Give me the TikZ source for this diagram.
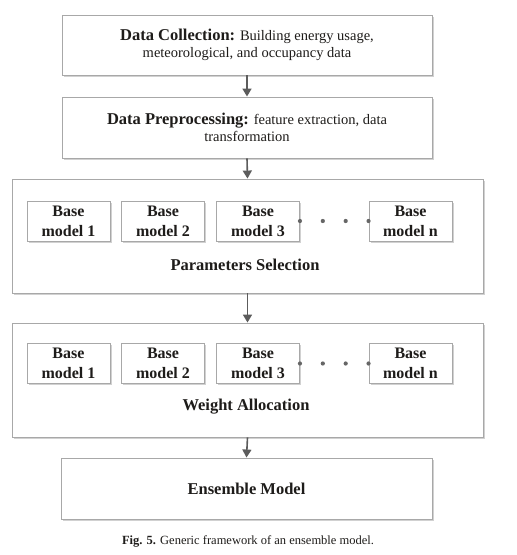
\documentclass[tikz,border=0pt]{standalone}
\usepackage{fontspec}
\setmainfont{Liberation Serif}
\usetikzlibrary{arrows.meta,shadows,calc}
\definecolor{framegray}{HTML}{A8A8A8}
\definecolor{arrowgray}{HTML}{5C5C5C}
\definecolor{inkblack}{HTML}{1E1C1A}
\definecolor{dotgray}{HTML}{666666}
\newcommand{\headfont}{\bfseries\fontsize{16.5}{17}\selectfont}
\newcommand{\bodyfont}{\fontsize{14.5}{17}\selectfont}

\tikzset{
  stage/.style={draw=framegray, fill=white, line width=0.9pt, inner sep=0pt, align=center, text=inkblack,
    drop shadow={shadow xshift=1.5pt, shadow yshift=-1.5pt, fill=black, opacity=0.18}},
  modelbox/.style={stage, minimum width=83pt, minimum height=40pt, font=\bfseries\fontsize{16}{20}\selectfont},
  steplabel/.style={text=inkblack, font=\headfont},
  flow/.style={draw=arrowgray, line width=1.6pt, -{Triangle[width=9pt,length=8pt]}},
}

\begin{document}
\begin{tikzpicture}[x=1pt, y=1pt]
  \useasboundingbox (0,0) rectangle (517,-555);

  % pipeline stages
  \node[stage, minimum width=370pt, minimum height=60pt, font=\bodyfont] (collect) at (247,-45)
    {{\headfont Data Collection:} Building energy usage,\\meteorological, and occupancy data};
  \node[stage, minimum width=370pt, minimum height=61pt, font=\bodyfont] (prep) at (247,-127.5)
    {{\headfont Data Preprocessing:} feature extraction, data\\transformation};
  \node[stage, minimum width=471pt, minimum height=114pt] (paramsel) at (247.5,-236) {};
  \node[stage, minimum width=471pt, minimum height=114pt] (weightalloc) at (247.5,-380) {};
  \node[stage, minimum width=371pt, minimum height=61pt, font=\headfont] (ensemble) at (246.5,-488.5) {Ensemble Model};

  % base models, parameters selection
  \node[modelbox] (ps1) at (68.5,-221)  {Base\\model 1};
  \node[modelbox] (ps2) at (163,-221)   {Base\\model 2};
  \node[modelbox] (ps3) at (258,-221)   {Base\\model 3};
  \node[modelbox] (psn) at (410.5,-221) {Base\\model n};
  \node[steplabel] (pslabel) at (245,-265) {Parameters Selection};

  % base models, weight allocation
  \node[modelbox] (wa1) at (68.5,-363.5)  {Base\\model 1};
  \node[modelbox] (wa2) at (163,-363.5)   {Base\\model 2};
  \node[modelbox] (wa3) at (258,-363.5)   {Base\\model 3};
  \node[modelbox] (wan) at (410.5,-363.5) {Base\\model n};
  \node[steplabel] (walabel) at (246,-407) {Weight Allocation};

  % dots between model 3 and model n
  \foreach \k in {0,1,2,3} {
    \fill[dotgray] ($(ps3.east)!\k/3!(psn.west)$) circle (2.1pt);
    \fill[dotgray] ($(wa3.east)!\k/3!(wan.west)$) circle (2.1pt);
  }

  \draw[flow] (collect.south) -- (prep.north);
  \draw[flow] (prep.south) -- (paramsel.north);
  \draw[flow] (paramsel.south) -- (weightalloc.north);
  \draw[flow] (weightalloc.south) -- (ensemble.north);

  \node[text=inkblack, font=\fontsize{12.5}{14}\selectfont] (caption) at (248,-541)
    {\textbf{Fig. 5.} Generic framework of an ensemble model.};
\end{tikzpicture}
\end{document}
